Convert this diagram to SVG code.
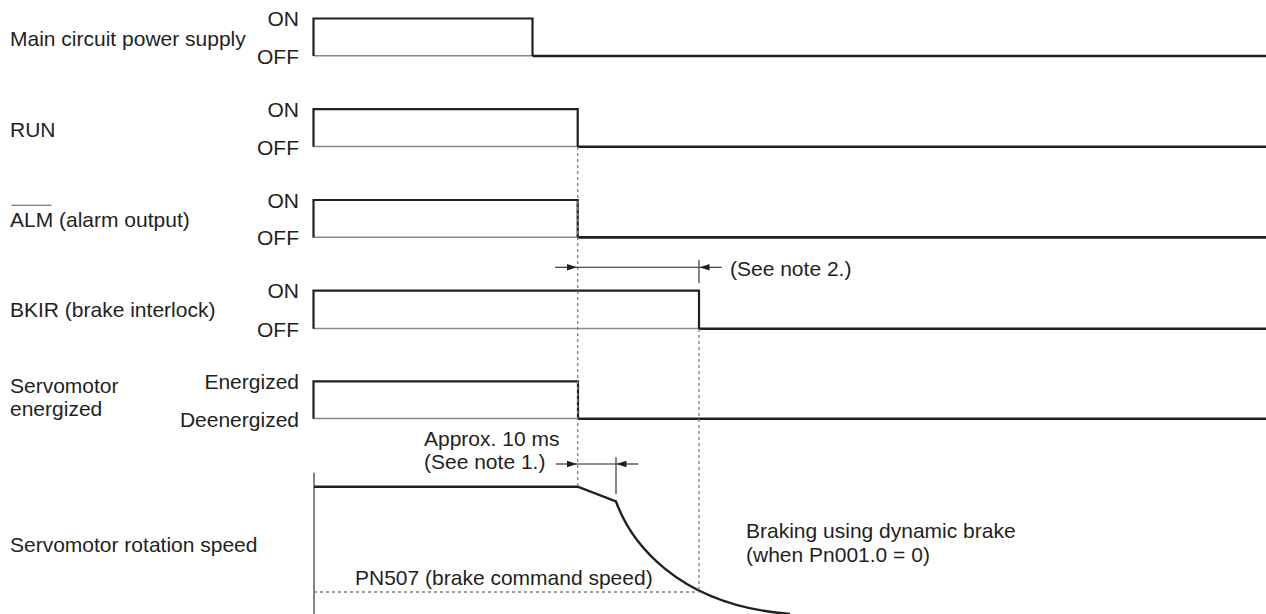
<svg xmlns="http://www.w3.org/2000/svg" width="1266" height="614" viewBox="0 0 1266 614">
<defs>
<style>
text{font-family:"Liberation Sans",Arial,Helvetica,sans-serif;font-size:21px;fill:#231f20}
.r{text-anchor:end}
.hi{fill:none;stroke:#231f20;stroke-width:2.2}
.lo{fill:none;stroke:#8a8a8a;stroke-width:1.4}
.off{fill:none;stroke:#231f20;stroke-width:2.6}
.dot{fill:none;stroke:#808080;stroke-width:1.3;stroke-dasharray:3 3}
.thin{fill:none;stroke:#231f20;stroke-width:1.1}
.ah{fill:#231f20}
</style>
<marker id="arr" viewBox="0 0 10 8" refX="10" refY="4" markerWidth="10" markerHeight="8" markerUnits="userSpaceOnUse" orient="auto">
<path d="M0,0.8 L10,4 L0,7.2 Z" class="ah"/>
</marker>
</defs>
<rect width="1266" height="614" fill="#ffffff"/>

<g id="main-circuit">
<text x="10" y="46">Main circuit power supply</text>
<text class="r" x="299" y="26">ON</text>
<text class="r" x="299" y="63.5">OFF</text>
<path class="lo" d="M313.5,55.8 H532.5"/>
<path class="hi" d="M313.5,56 V18.5 H532.5 V56"/>
<path class="off" d="M532.5,56 H1266"/>
</g>

<g id="run">
<text x="10" y="136.5">RUN</text>
<text class="r" x="299" y="116.7">ON</text>
<text class="r" x="299" y="154.5">OFF</text>
<path class="lo" d="M313.5,146.5 H577.7"/>
<path class="hi" d="M313.5,146.7 V109.2 H577.7 V146.7"/>
<path class="off" d="M577.7,146.7 H1266"/>
</g>

<g id="alm">
<text x="10" y="227">ALM (alarm output)</text>
<path d="M11.5,205.3 H51.5" stroke="#555" stroke-width="1.1" fill="none"/>
<text class="r" x="299" y="207.5">ON</text>
<text class="r" x="299" y="245.3">OFF</text>
<path class="lo" d="M313.5,237.2 H577.7"/>
<path class="hi" d="M313.5,237.4 V200 H577.7 V237.4"/>
<path class="off" d="M577.7,237.4 H1266"/>
</g>

<g id="bkir">
<text x="10" y="317">BKIR (brake interlock)</text>
<text class="r" x="299" y="298.2">ON</text>
<text class="r" x="299" y="336.5">OFF</text>
<path class="lo" d="M313.5,328.5 H699"/>
<path class="hi" d="M313.5,328.7 V290.7 H699 V328.7"/>
<path class="off" d="M699,328.7 H1266"/>
</g>

<g id="servo-energized">
<text x="10" y="393.3">Servomotor</text>
<text x="10" y="416">energized</text>
<text class="r" x="299" y="389">Energized</text>
<text class="r" x="299" y="426.7">Deenergized</text>
<path class="lo" d="M313.5,418.5 H578"/>
<path class="hi" d="M313.5,418.7 V381.3 H578 V418.7"/>
<path class="off" d="M578,418.7 H1266"/>
</g>

<g id="rotation-speed">
<text x="10" y="552">Servomotor rotation speed</text>
<path class="thin" d="M314,472.7 V614" stroke-width="1.4"/>
<path fill="none" stroke="#231f20" stroke-width="2.4" d="M314,486.7 H577.7 L616,501.5 C630,540 675,605 790,614"/>
<text x="355" y="585">PN507 (brake command speed)</text>
<text x="746" y="538.3">Braking using dynamic brake</text>
<text x="746" y="561.7">(when Pn001.0 = 0)</text>
<text x="424" y="446">Approx. 10 ms</text>
<text x="424" y="469">(See note 1.)</text>
</g>

<g id="connectors">
<path class="dot" d="M577.7,147 V486"/>
<path class="dot" d="M699,329 V592"/>
<path class="dot" d="M314,592 H699"/>
<path class="thin" d="M555,267.3 H577" marker-end="url(#arr)"/>
<path class="thin" d="M577,267.3 H699"/>
<path class="thin" d="M721.7,267.3 H699.5" marker-end="url(#arr)"/>
<path class="thin" d="M699,260 V283"/>
<path class="thin" d="M555.7,464 H577" marker-end="url(#arr)"/>
<path class="thin" d="M577,464 H616"/>
<path class="thin" d="M638.3,464 H616.5" marker-end="url(#arr)"/>
<path class="thin" d="M616,457.3 V494"/>
<text x="730" y="276">(See note 2.)</text>
</g>
</svg>
